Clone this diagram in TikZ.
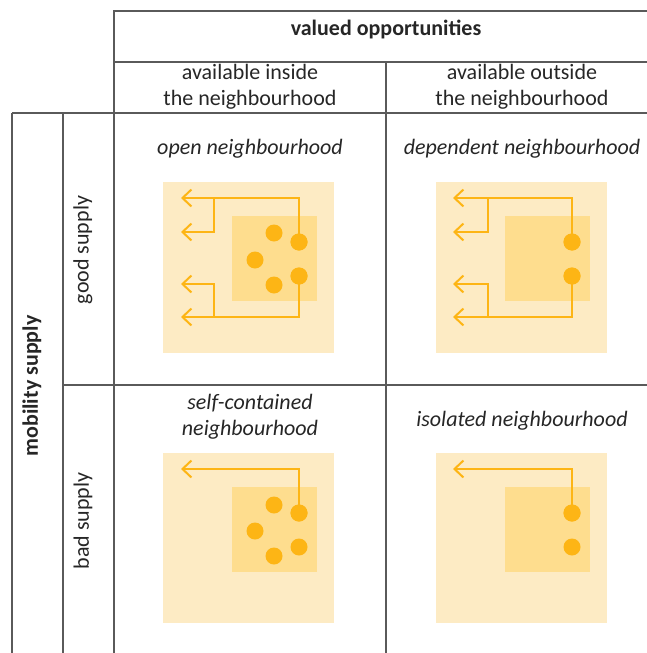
\documentclass[tikz,border=0pt]{standalone}
\usepackage{fontspec}
\setmainfont{Carlito}
\usetikzlibrary{arrows.meta}
\definecolor{gridc}{HTML}{5A5A5A}
\definecolor{outerc}{HTML}{FDEBC4}
\definecolor{innerc}{HTML}{FEDD8E}
\definecolor{dotc}{HTML}{FDB515}
\definecolor{txtc}{HTML}{262626}
\tikzset{
  grid/.style={draw=gridc, line width=1.2pt},
  outerbox/.style={fill=outerc, draw=none},
  innerbox/.style={fill=innerc, draw=none},
  dot/.style={circle, fill=dotc, draw=none, minimum size=17pt, inner sep=0pt},
  flow/.style={draw=dotc, line width=2pt, -{Straight Barb[length=9pt,width=17pt,line width=2pt]}},
  head/.style={font=\fontsize{22}{26}\selectfont, text=txtc, align=center, inner sep=0pt},
  headb/.style={font=\fontsize{22}{26}\selectfont\bfseries, text=txtc, align=center, inner sep=0pt},
  lab/.style={font=\fontsize{22}{26}\selectfont\itshape, text=txtc, align=center, inner sep=0pt},
}
\begin{document}
\begin{tikzpicture}[x=1pt,y=-1pt]
\useasboundingbox (0,0) rectangle (646,653);
% grid
\draw[grid] (114,660) -- (114,11) -- (660,11);
\draw[grid] (114,62) -- (660,62);
\draw[grid] (12,113) -- (660,113);
\draw[grid] (12,660) -- (12,113);
\draw[grid] (63,660) -- (63,113);
\draw[grid] (386,62) -- (386,660);
\draw[grid] (63,385) -- (660,385);
% header texts
\node[headb] (hv) at (386,29) {valued opportunities};
\node[head] (hi) at (250,87) {available inside\\the neighbourhood};
\node[head] (ho) at (522,87) {available outside\\the neighbourhood};
\node[headb, rotate=90] (ms) at (32,386) {mobility supply};
\node[head, rotate=90] (gs) at (83,250) {good supply};
\node[head, rotate=90] (bs) at (83,521) {bad supply};
% cell labels
\node[lab] (l1) at (250,149) {open neighbourhood};
\node[lab] (l2) at (522,149) {dependent neighbourhood};
\node[lab] (l3) at (250,417) {self-contained\\neighbourhood};
\node[lab] (l4) at (522,421) {isolated neighbourhood};
% ---- panel 1: open
\fill[outerbox] (163,182) rectangle (334,353);
\fill[innerbox] (232,216) rectangle (317,301);
\coordinate (a1t1) at (181,198);
\coordinate (a1t2) at (181,232);
\coordinate (a1t3) at (181,284);
\coordinate (a1t4) at (181,317);
\coordinate (a1j1) at (214,198);
\coordinate (a1j2) at (214,317);
\node[dot] (a1d1) at (274,233) {};
\node[dot] (a1d2) at (299,242) {};
\node[dot] (a1d3) at (255,260) {};
\node[dot] (a1d4) at (299,276) {};
\node[dot] (a1d5) at (274,285) {};
\draw[flow] (a1d2.center) |- (a1t1);
\draw[flow] (a1j1) |- (a1t2);
\draw[flow] (a1d4.center) |- (a1t4);
\draw[flow] (a1j2) |- (a1t3);
\node[dot] at (a1d2) {};
\node[dot] at (a1d4) {};
% ---- panel 2: dependent
\fill[outerbox] (436,182) rectangle (607,353);
\fill[innerbox] (505,216) rectangle (590,301);
\coordinate (a2t1) at (453,198);
\coordinate (a2t2) at (453,232);
\coordinate (a2t3) at (453,284);
\coordinate (a2t4) at (453,317);
\coordinate (a2j1) at (488,198);
\coordinate (a2j2) at (488,317);
\node[dot] (a2d1) at (572,242) {};
\node[dot] (a2d2) at (572,276) {};
\draw[flow] (a2d1.center) |- (a2t1);
\draw[flow] (a2j1) |- (a2t2);
\draw[flow] (a2d2.center) |- (a2t4);
\draw[flow] (a2j2) |- (a2t3);
\node[dot] at (a2d1) {};
\node[dot] at (a2d2) {};
% ---- panel 3: self-contained
\fill[outerbox] (163,453) rectangle (334,623);
\fill[innerbox] (232,487) rectangle (317,572);
\coordinate (a3t1) at (181,469);
\node[dot] (a3d1) at (274,505) {};
\node[dot] (a3d2) at (299,513) {};
\node[dot] (a3d3) at (255,531) {};
\node[dot] (a3d4) at (299,547) {};
\node[dot] (a3d5) at (274,556) {};
\draw[flow] (a3d2.center) |- (a3t1);
\node[dot] at (a3d2) {};
% ---- panel 4: isolated
\fill[outerbox] (436,453) rectangle (607,623);
\fill[innerbox] (505,487) rectangle (590,572);
\coordinate (a4t1) at (453,469);
\node[dot] (a4d1) at (572,513) {};
\node[dot] (a4d2) at (572,547) {};
\draw[flow] (a4d1.center) |- (a4t1);
\node[dot] at (a4d1) {};
\end{tikzpicture}
\end{document}
